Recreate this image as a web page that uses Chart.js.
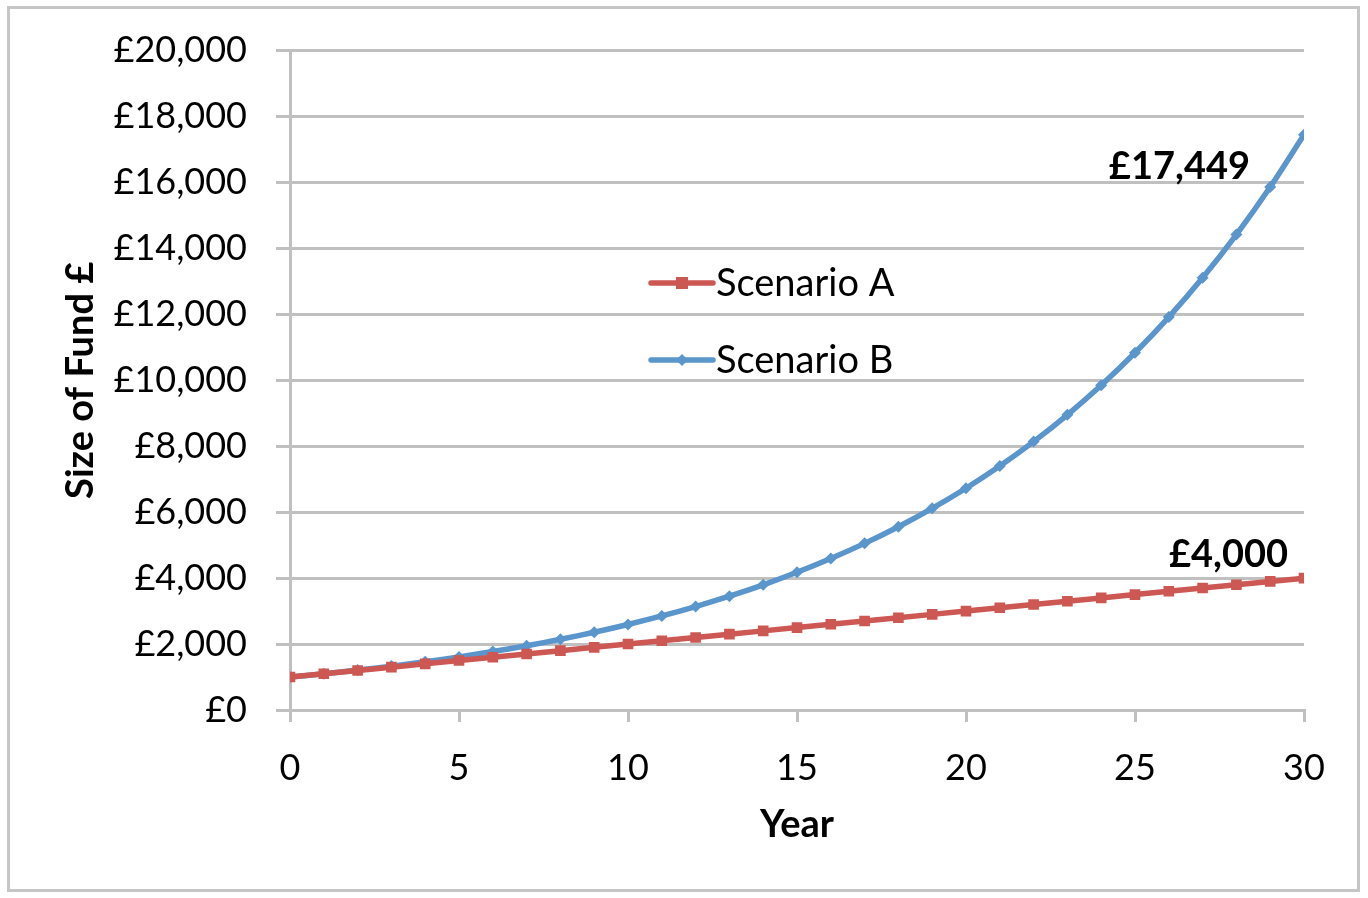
<!DOCTYPE html>
<html>
<head>
<meta charset="utf-8">
<script src="https://cdn.jsdelivr.net/npm/chart.js@4"></script>
<style>
  html, body { margin: 0; padding: 0; background: #fff; }
  canvas { display: block; }
</style>
</head>
<body>
<canvas id="fundChart" width="1368" height="898"></canvas>
<script>
// values
const years = [0, 1, 2, 3, 4, 5, 6, 7, 8, 9, 10, 11, 12, 13, 14, 15, 16, 17, 18, 19, 20, 21, 22, 23, 24, 25, 26, 27, 28, 29, 30];
const scenarioA = [1000, 1100, 1200, 1300, 1400, 1500, 1600, 1700, 1800, 1900, 2000, 2100, 2200, 2300, 2400, 2500, 2600, 2700, 2800, 2900, 3000, 3100, 3200, 3300, 3400, 3500, 3600, 3700, 3800, 3900, 4000];
const scenarioB = [1000, 1100, 1210, 1331, 1464, 1611, 1772, 1949, 2144, 2358, 2594, 2853, 3138, 3452, 3797, 4177, 4595, 5054, 5560, 6116, 6727, 7400, 8140, 8954, 9850, 10835, 11918, 13110, 14421, 15863, 17449];
const seriesNames = ['Scenario A', 'Scenario B'];
const endLabels = ['£4,000', '£17,449'];

const FONT = 'Lato, "Open Sans", sans-serif';
const redCol = '#CD5753';
const blueCol = '#5A95CC';

const toPoints = vals => vals.map((v, i) => ({ x: years[i], y: v }));

// grey frame around the whole picture
const framePlugin = {
    id: 'frame',
    beforeDraw(chart) {
        const ctx = chart.ctx;
        ctx.save();
        ctx.fillStyle = '#fff';
        ctx.fillRect(0, 0, chart.width, chart.height);
        ctx.strokeStyle = '#c6c6c6';
        ctx.lineWidth = 3;
        ctx.strokeRect(8.5, 7.5, 1350, 883);
        ctx.restore();
    }
};

// legend floating inside the plot, like the Excel one
const innerLegend = {
    id: 'innerLegend',
    afterDraw(chart) {
        const ctx = chart.ctx;
        const x0 = 651, x1 = 713;
        const rows = [283, 360];
        ctx.save();
        chart.data.datasets.forEach((ds, i) => {
            const y = rows[i];
            ctx.strokeStyle = ds.borderColor;
            ctx.lineWidth = 5.5;
            ctx.lineCap = 'round';
            ctx.beginPath();
            ctx.moveTo(x0, y);
            ctx.lineTo(x1, y);
            ctx.stroke();
            ctx.fillStyle = ds.borderColor;
            const cx = (x0 + x1) / 2;
            if (i === 0) {
                ctx.fillRect(cx - 6, y - 6, 12, 12);
            } else {
                ctx.beginPath();
                ctx.moveTo(cx, y - 6);
                ctx.lineTo(cx + 6, y);
                ctx.lineTo(cx, y + 6);
                ctx.lineTo(cx - 6, y);
                ctx.closePath();
                ctx.fill();
            }
            ctx.fillStyle = '#000';
            ctx.font = '38px ' + FONT;
            ctx.textBaseline = 'middle';
            ctx.textAlign = 'left';
            ctx.fillText(ds.label, x1 + 3, y + 1);
        });
        ctx.restore();
    }
};

// bold value labels next to the last point of each series
const endLabelPlugin = {
    id: 'endLabel',
    afterDatasetsDraw(chart) {
        const ctx = chart.ctx;
        ctx.save();
        ctx.fillStyle = '#000';
        ctx.font = 'bold 38px ' + FONT;
        ctx.textBaseline = 'middle';
        ctx.textAlign = 'right';
        chart.data.datasets.forEach((ds, i) => {
            const pts = chart.getDatasetMeta(i).data;
            const last = pts[pts.length - 1];
            if (i === 0) {
                ctx.fillText(endLabels[i], last.x - 16, last.y - 23);
            } else {
                ctx.fillText(endLabels[i], last.x - 54, last.y + 32);
            }
        });
        ctx.restore();
    }
};

new Chart(document.getElementById('fundChart'), {
    type: 'line',
    data: {
        datasets: [
            {
                label: seriesNames[0],
                data: toPoints(scenarioA),
                borderColor: redCol,
                backgroundColor: redCol,
                borderWidth: 5.5,
                pointStyle: 'rect',
                pointRadius: 7.5,
                pointBorderWidth: 0,
                tension: 0
            },
            {
                label: seriesNames[1],
                data: toPoints(scenarioB),
                borderColor: blueCol,
                backgroundColor: blueCol,
                borderWidth: 5.5,
                pointStyle: 'rectRot',
                pointRadius: 6,
                pointBorderWidth: 0,
                tension: 0.3
            }
        ]
    },
    options: {
        responsive: false,
        devicePixelRatio: 1,
        animation: false,
        layout: { padding: { top: 48, right: 64, bottom: 0, left: 0 } },
        plugins: {
            legend: { display: false },
            tooltip: { enabled: false }
        },
        scales: {
            x: {
                type: 'linear',
                min: 0,
                max: 30,
                afterFit: s => { s.height = 188; },
                ticks: {
                    stepSize: 5,
                    color: '#000',
                    padding: 25,
                    maxRotation: 0,
                    font: { family: FONT, size: 36 }
                },
                grid: {
                    drawOnChartArea: false,
                    drawTicks: true,
                    tickLength: 12,
                    color: '#c0c0c0',
                    lineWidth: 3
                },
                border: { color: '#c0c0c0', width: 3 },
                title: {
                    display: true,
                    text: 'Year',
                    color: '#000',
                    font: { family: FONT, size: 38, weight: 'bold' },
                    padding: { top: 0, bottom: 50 }
                }
            },
            y: {
                min: 0,
                max: 20000,
                afterFit: s => { s.width = 290; },
                ticks: {
                    stepSize: 2000,
                    color: '#000',
                    padding: 29,
                    font: { family: FONT, size: 36 },
                    callback: v => '£' + v.toLocaleString('en-GB')
                },
                grid: {
                    color: '#c0c0c0',
                    lineWidth: 3,
                    tickLength: 14
                },
                border: { color: '#c0c0c0', width: 3 },
                title: {
                    display: true,
                    text: 'Size of Fund £',
                    color: '#000',
                    font: { family: FONT, size: 38, weight: 'bold' },
                    padding: { top: 58, bottom: 0 }
                }
            }
        }
    },
    plugins: [framePlugin, innerLegend, endLabelPlugin]
});
</script>
</body>
</html>
